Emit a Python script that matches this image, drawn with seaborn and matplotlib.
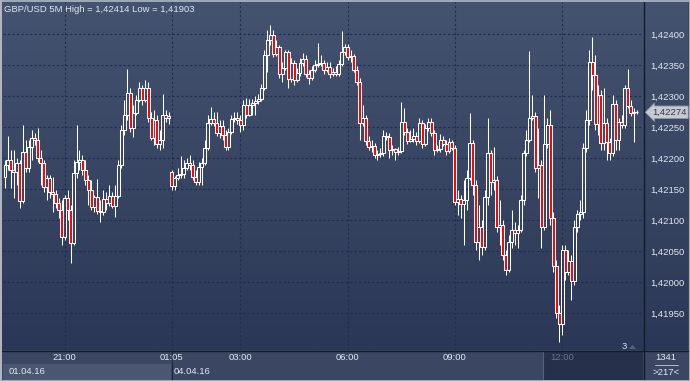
import numpy as np
import pandas as pd
import matplotlib
matplotlib.use("Agg")
import matplotlib.pyplot as plt
import seaborn as sns
from matplotlib.colors import LinearSegmentedColormap
from matplotlib.patches import Rectangle, Polygon

# ---------------- data (price = 1 + value / 1e5) ----------------
symbol = "GBP/USD 5M"
opens_e5 = [42170,42189,42197,42181,42178,42192,42131,42210,42184,42218,
42232,42229,42200,42192,42153,42168,42145,42142,42128,42116,
42073,42136,42116,42063,42176,42194,42197,42181,42165,42149,
42121,42137,42115,42113,42134,42128,42139,42123,42139,42189,
42245,42270,42305,42249,42273,42294,42313,42294,42313,42265,
42232,42261,42223,42229,42270,42265,42178,42155,42168,42173,
42174,42184,42192,42189,42170,42161,42186,42192,42216,42257,
42263,42257,42240,42252,42237,42218,42242,42263,42265,42261,
42253,42286,42270,42286,42289,42292,42295,42313,42366,42390,
42399,42368,42379,42336,42345,42371,42328,42353,42326,42337,
42353,42360,42336,42329,42342,42350,42352,42353,42342,42347,
42336,42339,42336,42352,42371,42379,42363,42365,42342,42323,
42257,42265,42228,42218,42220,42205,42207,42208,42236,42234,
42213,42215,42210,42211,42258,42242,42228,42231,42236,42228,
42257,42223,42249,42258,42240,42213,42215,42229,42223,42211,
42226,42216,42129,42134,42126,42132,42168,42224,42157,42065,
42089,42057,42137,42208,42161,42165,42089,42092,42044,42019,
42065,42084,42079,42084,42132,42208,42229,42265,42268,42184,
42189,42089,42223,42253,42103,42026,41950,41932,42052,42016,
42034,42002,42089,42110,42113,42216,42261,42355,42334,42255,
42302,42224,42257,42226,42208,42287,42229,42258,42253,42313,
42284,42273,42274]
highs_e5 = [42197,42236,42213,42213,42200,42197,42253,42229,42229,42245,
42240,42249,42213,42197,42173,42173,42170,42149,42136,42132,
42140,42149,42124,42197,42253,42213,42205,42197,42173,42165,
42140,42166,42132,42149,42145,42157,42145,42157,42197,42253,
42294,42344,42313,42286,42302,42323,42318,42326,42323,42274,
42278,42270,42245,42303,42278,42274,42181,42171,42184,42203,
42197,42200,42205,42197,42181,42194,42200,42229,42270,42282,
42274,42274,42261,42261,42245,42249,42270,42274,42274,42270,
42294,42297,42295,42295,42300,42303,42320,42374,42407,42414,
42407,42390,42382,42355,42374,42374,42361,42358,42345,42361,
42370,42366,42342,42349,42358,42386,42366,42358,42355,42355,
42345,42349,42358,42405,42384,42384,42374,42368,42349,42329,
42286,42270,42236,42229,42224,42213,42216,42245,42242,42240,
42221,42216,42218,42290,42281,42249,42245,42249,42242,42265,
42261,42255,42265,42265,42245,42221,42239,42236,42229,42232,
42229,42221,42149,42140,42165,42181,42273,42229,42165,42124,
42100,42149,42265,42213,42218,42171,42132,42100,42052,42076,
42116,42097,42092,42140,42213,42245,42373,42302,42274,42249,
42197,42302,42265,42278,42113,42036,41963,42060,42060,42052,
42044,42100,42116,42132,42224,42278,42374,42395,42366,42318,
42310,42313,42265,42232,42302,42294,42265,42270,42318,42344,
42294,42281,42278]
lows_e5 = [42152,42181,42152,42136,42157,42119,42128,42178,42178,42197,
42221,42194,42157,42145,42132,42136,42113,42119,42103,42060,
42068,42100,42031,42060,42168,42181,42173,42157,42124,42116,
42113,42110,42097,42108,42116,42123,42119,42105,42136,42184,
42237,42261,42242,42234,42270,42290,42286,42290,42258,42229,
42221,42216,42213,42216,42258,42255,42149,42149,42165,42168,
42168,42181,42181,42165,42157,42157,42157,42189,42213,42253,
42252,42236,42232,42229,42213,42213,42239,42258,42255,42242,
42245,42265,42268,42270,42270,42287,42292,42310,42339,42382,
42363,42365,42329,42323,42342,42313,42323,42318,42323,42332,
42349,42331,42320,42326,42339,42347,42349,42336,42339,42329,
42332,42332,42332,42349,42366,42358,42355,42339,42318,42229,
42252,42221,42213,42210,42200,42197,42202,42203,42229,42200,
42205,42197,42205,42208,42237,42223,42226,42226,42221,42224,
42216,42220,42244,42236,42205,42210,42210,42220,42205,42208,
42213,42124,42108,42103,42060,42116,42165,42140,42052,42036,
42044,42052,42124,42140,42149,42081,42060,42036,42011,42016,
42055,42060,42055,42081,42124,42203,42226,42261,42178,42136,
42055,42084,42216,42092,42016,41942,41903,41915,42003,42011,
41971,41995,42081,42100,42103,42210,42253,42310,42245,42237,
42213,42213,42197,42197,42203,42213,42213,42249,42249,42281,
42268,42226,42271]
closes_e5 = [42189,42197,42181,42178,42192,42131,42210,42184,42218,42232,
42229,42200,42192,42153,42168,42145,42142,42128,42116,42073,
42136,42116,42063,42176,42194,42197,42181,42165,42149,42121,
42137,42115,42113,42134,42128,42139,42123,42139,42189,42245,
42270,42305,42249,42273,42294,42313,42294,42313,42265,42232,
42261,42223,42229,42270,42265,42268,42155,42168,42173,42174,
42184,42192,42189,42170,42161,42186,42192,42216,42257,42263,
42257,42240,42252,42237,42218,42242,42263,42265,42261,42253,
42286,42270,42286,42289,42292,42295,42313,42366,42390,42399,
42368,42379,42336,42345,42371,42328,42353,42326,42337,42353,
42360,42336,42329,42342,42350,42352,42353,42342,42347,42336,
42339,42336,42352,42371,42379,42363,42365,42342,42323,42257,
42265,42228,42218,42220,42205,42207,42208,42236,42234,42213,
42215,42210,42211,42258,42242,42228,42231,42236,42228,42257,
42223,42249,42258,42240,42213,42215,42229,42223,42211,42226,
42216,42129,42134,42126,42132,42168,42224,42157,42065,42089,
42057,42137,42208,42161,42165,42089,42092,42044,42019,42065,
42084,42079,42084,42132,42208,42229,42265,42268,42184,42189,
42089,42223,42253,42103,42026,41950,41932,42052,42016,42034,
42002,42089,42110,42113,42216,42261,42355,42334,42255,42302,
42224,42257,42226,42208,42287,42229,42258,42253,42313,42284,
42273,42274,42274]

time_labels = ["21:00", "01:05", "03:00", "06:00", "09:00", "12:00"]
time_label_bars = [20, 56, 79, 115, 151, 187]
date_labels = ["01.04.16", "04.04.16"]
date_label_bars = [0, 56]
price_ticks = [1.4195, 1.4200, 1.4205, 1.4210, 1.4215,
               1.4220, 1.4225, 1.4230, 1.4235, 1.4240]
bars_total = 1341
bars_visible = 217
scroll_marker = "3"

# ---------------- frame ----------------
df = pd.DataFrame({
    "open": 1 + np.array(opens_e5) / 1e5,
    "high": 1 + np.array(highs_e5) / 1e5,
    "low": 1 + np.array(lows_e5) / 1e5,
    "close": 1 + np.array(closes_e5) / 1e5,
})
df["bar"] = np.arange(len(df))
df["top"] = df[["open", "close"]].max(axis=1)
df["bot"] = df[["open", "close"]].min(axis=1)
df["bear"] = df["close"] < df["open"]

def fmt(p):
    return f"{p:.5f}".replace(".", ",")

sns.set_theme(style="dark")
FONT = ["Liberation Sans", "DejaVu Sans"]
plt.rcParams["font.family"] = FONT
FS = 6.8
TXT = "#e3e7ee"

W, H = 690, 381
fig = plt.figure(figsize=(W / 100, H / 100), dpi=100)
fig.patch.set_facecolor("#3b4863")

# background (pixel coordinates)
bg = fig.add_axes([0, 0, 1, 1], zorder=-5)
bg.set_xlim(0, W)
bg.set_ylim(H, 0)
bg.axis("off")
grad = np.linspace(0, 1, 256)[:, None]
cmap = LinearSegmentedColormap.from_list("bgc", ["#44536f", "#2b3756"])
bg.imshow(grad, extent=(2, 688, 350, 2), cmap=cmap, aspect="auto", zorder=0,
          interpolation="bilinear")
bg.add_patch(Rectangle((2, 350), 686, 29, fc="#3b4762", ec="none", zorder=1))
bg.add_patch(Rectangle((3, 364), 168, 16, fc="#4b5771", ec="none", zorder=2))
bg.add_patch(Rectangle((543, 351), 100, 29, fc="#26304a", ec="none", zorder=2))
bg.plot([543, 543], [351, 380], color="#55627c", lw=0.8, zorder=3)
bg.plot([2, 688], [350.5, 350.5], color="#131a2a", lw=1.0, zorder=3)
bg.plot([643.5, 643.5], [2, 380], color="#131a2a", lw=1.0, zorder=3)
bg.plot([171.5, 171.5], [351, 380], color="#1d2538", lw=0.8, zorder=3)
bg.plot([655, 678], [364.5, 364.5], color="#c9ced8", lw=0.6, zorder=3)
bg.add_patch(Rectangle((0, 0), 2.2, H, fc="#9aa3b4", ec="none", zorder=4))
bg.add_patch(Rectangle((0.5, 0.5), W - 1, H - 1, fc="none", ec="#b4bac6",
                       lw=1.2, zorder=4))
bg.add_patch(Polygon([[629, 349], [636, 349], [632.5, 345]], closed=True,
                     fc="#55637f", ec="none", zorder=3))

# main price axes
left_px, right_px, top_px, bot_px = 3, 643, 2, 350
ax = fig.add_axes([left_px / W, (H - bot_px) / H, (right_px - left_px) / W,
                   (bot_px - top_px) / H])
ax.set_facecolor("none")
ax.set_xlim(-0.67, 214.1)
ax.set_ylim(1.418905, 1.424518)
for s in ax.spines.values():
    s.set_visible(False)

ax.grid(True, color="#1c2f55", lw=0.8, linestyle=(0, (2, 2)))
ax.set_axisbelow(True)

lw = 0.75
ax.vlines(df["bar"], df["top"], np.maximum(df["high"], df["top"]),
          color="white", lw=lw, zorder=3)
ax.vlines(df["bar"], np.minimum(df["low"], df["bot"]), df["bot"],
          color="white", lw=lw, zorder=3)
bull = df[~df["bear"]]
bear = df[df["bear"]]
ax.bar(bull["bar"], bull["top"] - bull["bot"], bottom=bull["bot"], width=1.0,
       facecolor="none", edgecolor="white", linewidth=lw, zorder=4)
ax.bar(bear["bar"], bear["top"] - bear["bot"], bottom=bear["bot"], width=1.0,
       facecolor="#ff0000", edgecolor="white", linewidth=lw, zorder=4)

# axes ticks
ax.yaxis.tick_right()
ax.set_yticks(price_ticks)
ax.set_yticklabels([fmt(p) for p in price_ticks])
ax.tick_params(axis="y", length=0, pad=5.5, labelsize=FS, labelcolor=TXT)
ax.set_xticks(time_label_bars)
ax.set_xticklabels(time_labels)
ax.tick_params(axis="x", length=0, pad=1.8, labelsize=FS, labelcolor=TXT)
ax.get_xticklabels()[-1].set_color("#67738b")

# date labels under the time labels
for lab, b in zip(date_labels, date_label_bars):
    ax.annotate(lab, xy=(b, 0), xycoords=ax.get_xaxis_transform(),
                xytext=(4 if b == 0 else 2, -22), textcoords="offset pixels",
                ha="left", va="center", fontsize=FS, color=TXT,
                annotation_clip=False)

# title with high / low from data
fig.text(4 / W, 1 - 9 / H,
         f"{symbol} High = {fmt(df['high'].max())} Low = {fmt(df['low'].min())}",
         fontsize=FS, color=TXT, ha="left", va="center")

# last price tag
last = df["close"].iloc[-1]
ax.annotate(fmt(last), xy=(1, last), xycoords=ax.get_yaxis_transform(),
            xytext=(9, 0), textcoords="offset pixels", ha="left", va="center",
            fontsize=FS, color="#333a46", annotation_clip=False, zorder=10,
            bbox=dict(boxstyle="larrow,pad=0.18", fc="#c6cad2", ec="#8e96a6",
                      lw=0.6))

# bottom-right counters
fig.text(666 / W, 1 - 357.5 / H, str(bars_total), fontsize=FS, color=TXT,
         ha="center", va="center")
fig.text(666 / W, 1 - 372.5 / H, f">{bars_visible}<", fontsize=FS, color=TXT,
         ha="center", va="center")
fig.text(624 / W, 1 - 346.5 / H, scroll_marker, fontsize=FS, color="#d5e0f0",
         ha="center", va="center")

fig.savefig("out.png", dpi=100, facecolor=fig.get_facecolor())
